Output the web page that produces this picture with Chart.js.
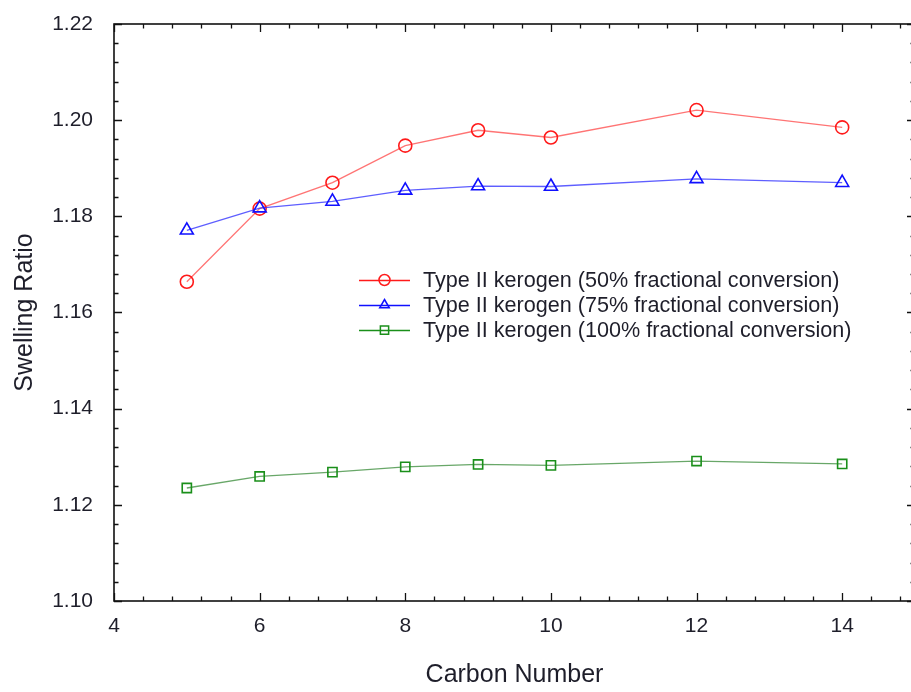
<!DOCTYPE html>
<html>
<head>
<meta charset="utf-8">
<title>Swelling Ratio vs Carbon Number</title>
<script src="https://cdn.jsdelivr.net/npm/chart.js@4.4.1/dist/chart.umd.min.js"></script>
<style>
  html, body { margin: 0; padding: 0; background: #fff; overflow: hidden; }
  canvas { display: block; }
</style>
</head>
<body>
<canvas id="chart" width="916" height="692"></canvas>
<script>
const carbonNumbers = [5, 6, 7, 8, 9, 10, 12, 14];
const ratio50 = [1.1664, 1.1816, 1.1870, 1.1947, 1.1979, 1.1964, 1.2021, 1.1985];
const ratio75 = [1.1771, 1.1817, 1.1831, 1.1854, 1.1863, 1.1862, 1.1878, 1.1870];
const ratio100 = [1.1235, 1.1259, 1.1268, 1.1279, 1.1284, 1.1282, 1.1291, 1.1285];
const seriesLabels = [
  "Type II kerogen (50% fractional conversion)",
  "Type II kerogen (75% fractional conversion)",
  "Type II kerogen (100% fractional conversion)",
];
const xTicks = [4, 6, 8, 10, 12, 14];
const yTicks = [1.10, 1.12, 1.14, 1.16, 1.18, 1.20, 1.22];

const FONT = "'Liberation Sans', Arial, sans-serif";
const TEXT = "#1e1e2a";
// plot box edges on the page
const PLOT_LEFT = 114, PLOT_RIGHT = 915, PLOT_TOP = 24, PLOT_BOTTOM = 601;

function points(ys) {
  return carbonNumbers.map((x, i) => ({ x, y: ys[i] }));
}

function makeSeries(label, ys, stroke, line, style, order) {
  return {
    label,
    data: points(ys),
    borderColor: line,
    borderWidth: 1.3,
    pointStyle: style,
    pointRadius: style === "triangle" ? 7.5 : 6.5,
    pointBorderColor: stroke,
    pointBackgroundColor: "rgba(0,0,0,0)",
    pointBorderWidth: 1.6,
    tension: 0,
    order,
    _stroke: stroke,
  };
}

// marker drawn by hand for the in-plot legend
function drawMarker(ctx, style, x, y, r) {
  ctx.beginPath();
  if (style === "circle") {
    ctx.arc(x, y, r, 0, Math.PI * 2);
  } else if (style === "triangle") {
    ctx.moveTo(x, y - r);
    ctx.lineTo(x + r * 0.87, y + r * 0.5);
    ctx.lineTo(x - r * 0.87, y + r * 0.5);
    ctx.closePath();
  } else {
    ctx.rect(x - r * 0.75, y - r * 0.75, r * 1.5, r * 1.5);
  }
  ctx.stroke();
}

// pin the chart area so the x range runs off the right edge
const pinAreaPlugin = {
  id: "pinArea",
  afterLayout(chart) {
    const { x, y } = chart.scales;
    const a = chart.chartArea;
    a.left = x.left = PLOT_LEFT;
    a.right = x.right = PLOT_RIGHT;
    x.width = PLOT_RIGHT - PLOT_LEFT;
    a.top = y.top = PLOT_TOP;
    a.bottom = y.bottom = PLOT_BOTTOM;
    y.height = PLOT_BOTTOM - PLOT_TOP;
    a.width = x.width;
    a.height = y.height;
    x.configure();
    y.configure();
  },
};

// box frame with inward major/minor ticks, plus the legend
const framePlugin = {
  id: "frame",
  afterDraw(chart) {
    const { ctx, chartArea: a, scales } = chart;
    const xs = scales.x, ys = scales.y;
    ctx.save();
    ctx.strokeStyle = "#111";
    ctx.lineWidth = 1.6;
    ctx.strokeRect(a.left, a.top, a.right - a.left, a.bottom - a.top);

    ctx.lineWidth = 1.3;
    ctx.beginPath();
    for (let k = 0; k <= 27; k++) {
      const v = xs.min + k * 0.4;
      const px = Math.round(xs.getPixelForValue(v)) + 0.5;
      const len = k % 5 === 0 ? 8 : 4.5;
      ctx.moveTo(px, a.bottom); ctx.lineTo(px, a.bottom - len);
      ctx.moveTo(px, a.top); ctx.lineTo(px, a.top + len);
    }
    for (let k = 0; k <= 30; k++) {
      const v = ys.min + k * 0.004;
      const py = Math.round(ys.getPixelForValue(v)) + 0.5;
      const len = k % 5 === 0 ? 8 : 4.5;
      ctx.moveTo(a.left, py); ctx.lineTo(a.left + len, py);
      ctx.moveTo(a.right, py); ctx.lineTo(a.right - len, py);
    }
    ctx.stroke();

    // legend
    const lg = chart.options.plugins.frame;
    ctx.font = `${lg.fontSize}px ${FONT}`;
    ctx.textBaseline = "middle";
    ctx.textAlign = "left";
    chart.data.datasets.forEach((ds, i) => {
      const y = lg.top + i * lg.rowGap;
      ctx.strokeStyle = ds._stroke;
      ctx.lineWidth = 1.3;
      ctx.beginPath();
      ctx.moveTo(lg.left, y + 0.5);
      ctx.lineTo(lg.left + lg.lineLen, y + 0.5);
      ctx.stroke();
      ctx.lineWidth = 1.5;
      drawMarker(ctx, ds.pointStyle, lg.left + lg.lineLen / 2, y, 5.5);
      ctx.fillStyle = TEXT;
      ctx.fillText(ds.label, lg.left + lg.lineLen + 13, y + 1);
    });
    ctx.restore();
  },
};

new Chart(document.getElementById("chart"), {
  type: "line",
  data: {
    datasets: [
      makeSeries(seriesLabels[0], ratio50, "#ff1a1a", "rgba(255,70,70,0.75)", "circle", 3),
      makeSeries(seriesLabels[1], ratio75, "#1010ff", "rgba(40,40,255,0.75)", "triangle", 2),
      makeSeries(seriesLabels[2], ratio100, "#1a8f1a", "rgba(40,130,40,0.7)", "rect", 1),
    ],
  },
  options: {
    responsive: false,
    animation: false,
    layout: { padding: { left: 0, right: 1, top: 24, bottom: 0 } },
    plugins: {
      legend: { display: false },
      tooltip: { enabled: false },
      frame: { left: 359, top: 280, rowGap: 25, lineLen: 51, fontSize: 21.6 },
    },
    scales: {
      x: {
        type: "linear",
        min: 4,
        max: 15,
        grid: { display: false },
        border: { display: false },
        afterBuildTicks: (s) => { s.ticks = xTicks.map((v) => ({ value: v })); },
        afterFit: (s) => { s.height = 91; },
        ticks: { color: TEXT, font: { family: FONT, size: 21 }, padding: 5, maxRotation: 0 },
        title: {
          display: true,
          text: "Carbon Number",
          color: TEXT,
          font: { family: FONT, size: 25 },
          padding: { top: 0, bottom: 2 },
        },
      },
      y: {
        min: 1.10,
        max: 1.22,
        grid: { display: false },
        border: { display: false },
        afterBuildTicks: (s) => { s.ticks = yTicks.map((v) => ({ value: v })); },
        afterFit: (s) => { s.width = 114; },
        ticks: {
          color: TEXT,
          font: { family: FONT, size: 21 },
          padding: 13,
          callback: (v) => Number(v).toFixed(2),
        },
        title: {
          display: true,
          text: "Swelling Ratio",
          color: TEXT,
          font: { family: FONT, size: 25 },
          padding: { top: 10, bottom: 0 },
        },
      },
    },
  },
  plugins: [pinAreaPlugin, framePlugin],
});
</script>
</body>
</html>
